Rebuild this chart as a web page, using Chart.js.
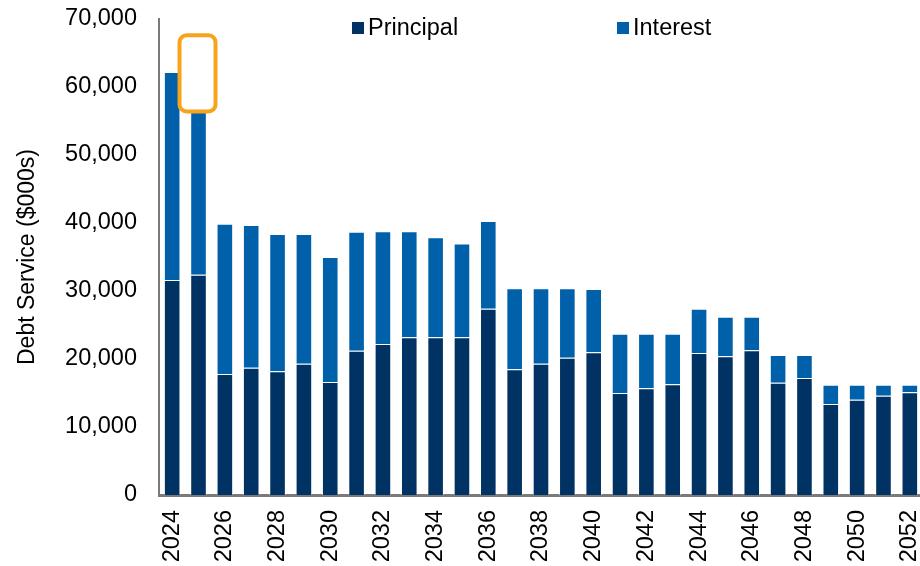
<!DOCTYPE html>
<html>
<head>
<meta charset="utf-8">
<script src="https://cdn.jsdelivr.net/npm/chart.js@4.4.1/dist/chart.umd.min.js"></script>
<style>
  html, body { margin: 0; padding: 0; background: #fff; overflow: hidden; }
  #wrap { position: relative; width: 923px; height: 566px; }
</style>
</head>
<body>
<div id="wrap"><canvas id="c"></canvas></div>
<script>
/* Debt service by year, stacked principal + interest ($000s) */
var YEARS = ['2024','2025','2026','2027','2028','2029','2030','2031','2032','2033',
             '2034','2035','2036','2037','2038','2039','2040','2041','2042','2043',
             '2044','2045','2046','2047','2048','2049','2050','2051','2052'];
var PRINCIPAL = [31600, 32400, 17800, 18700, 18200, 19300, 16600, 21200, 22200, 23200,
                 23200, 23200, 27400, 18500, 19300, 20200, 21000, 15000, 15700, 16300,
                 20900, 20400, 21300, 16500, 17200, 13400, 14000, 14600, 15100];
var INTEREST  = [30600, 29600, 22100, 21000, 20200, 19100, 18400, 17500, 16600, 15600,
                 14700, 13800, 12900, 11900, 11100, 10200, 9300, 8700, 8000, 7400,
                 6500, 5800, 4900, 4100, 3400, 2800, 2200, 1600, 1100];
var Y_MAX = 70000, Y_STEP = 10000;

var FONT = '"Liberation Sans", Arial, sans-serif';
var INK = { principal: '#003263', interest: '#0060aa', axis: '#7a7a7a', text: '#000', callout: '#f7a41c' };

Chart.defaults.font.family = FONT;
Chart.defaults.color = INK.text;

/* legend drawn over the plot, items spread apart like the original */
var legendPlugin = {
  id: 'spreadLegend',
  afterDraw: function (chart) {
    var ctx = chart.ctx;
    var spots = [352, 617];
    ctx.save();
    ctx.font = '23.5px ' + FONT;
    ctx.textBaseline = 'middle';
    chart.data.datasets.forEach(function (ds, i) {
      var x = spots[i];
      ctx.fillStyle = ds.backgroundColor;
      ctx.fillRect(x, 22, 12, 12);
      ctx.fillStyle = INK.text;
      ctx.fillText(ds.label, x + 16, 29);
    });
    ctx.restore();
  }
};

/* orange rounded callout over the 2025 bar */
var calloutPlugin = {
  id: 'callout',
  afterDatasetsDraw: function (chart) {
    var ctx = chart.ctx, y = chart.scales.y;
    var bar = chart.getDatasetMeta(1).data[1];
    if (!bar) return;
    var x0 = bar.x - 19, x1 = bar.x + 17;
    var y0 = y.getPixelForValue(67600), y1 = y.getPixelForValue(56400);
    ctx.save();
    ctx.beginPath();
    ctx.roundRect(x0, y0, x1 - x0, y1 - y0, 7);
    ctx.fillStyle = '#fff';
    ctx.fill();
    ctx.lineWidth = 4;
    ctx.strokeStyle = INK.callout;
    ctx.stroke();
    ctx.restore();
  }
};

function series(label, data, color) {
  return {
    label: label, data: data, backgroundColor: color,
    borderColor: 'rgba(255,255,255,0.55)', borderWidth: 1,
    categoryPercentage: 1, barPercentage: 0.63
  };
}

new Chart(document.getElementById('c').getContext('2d'), {
  type: 'bar',
  data: {
    labels: YEARS,
    datasets: [
      series('Principal', PRINCIPAL, INK.principal),
      series('Interest', INTEREST, INK.interest)
    ]
  },
  options: {
    responsive: true,
    maintainAspectRatio: false,
    animation: false,
    devicePixelRatio: 1,
    layout: { padding: { top: 19, right: 0, left: 0, bottom: 0 } },
    plugins: { legend: { display: false }, tooltip: { enabled: false } },
    scales: {
      x: {
        stacked: true,
        grid: { display: false, drawTicks: false },
        border: { color: INK.axis, width: 3 },
        // fixed box so the plot runs to the right edge like the source
        afterFit: function (s) { s.height = 71; s.paddingLeft = 0; s.paddingRight = 0; },
        ticks: {
          autoSkip: false, maxRotation: 90, minRotation: 90, padding: 15,
          font: { size: 23.5 }, color: INK.text,
          callback: function (v, i) { return i % 2 === 0 ? this.getLabelForValue(v) : ''; }
        }
      },
      y: {
        stacked: true,
        min: 0, max: Y_MAX,
        grid: { display: false, drawTicks: false },
        border: { color: INK.axis, width: 2 },
        afterFit: function (s) { s.width = 159; s.paddingTop = 0; s.paddingBottom = 0; },
        ticks: {
          stepSize: Y_STEP, padding: 22, font: { size: 23.5 }, color: INK.text,
          callback: function (v) { return v.toLocaleString('en-US'); }
        },
        title: {
          display: true, text: 'Debt Service ($000s)', color: INK.text,
          font: { size: 23 }, padding: { top: 14, bottom: 0 }
        }
      }
    }
  },
  plugins: [calloutPlugin, legendPlugin]
});
</script>
</body>
</html>
